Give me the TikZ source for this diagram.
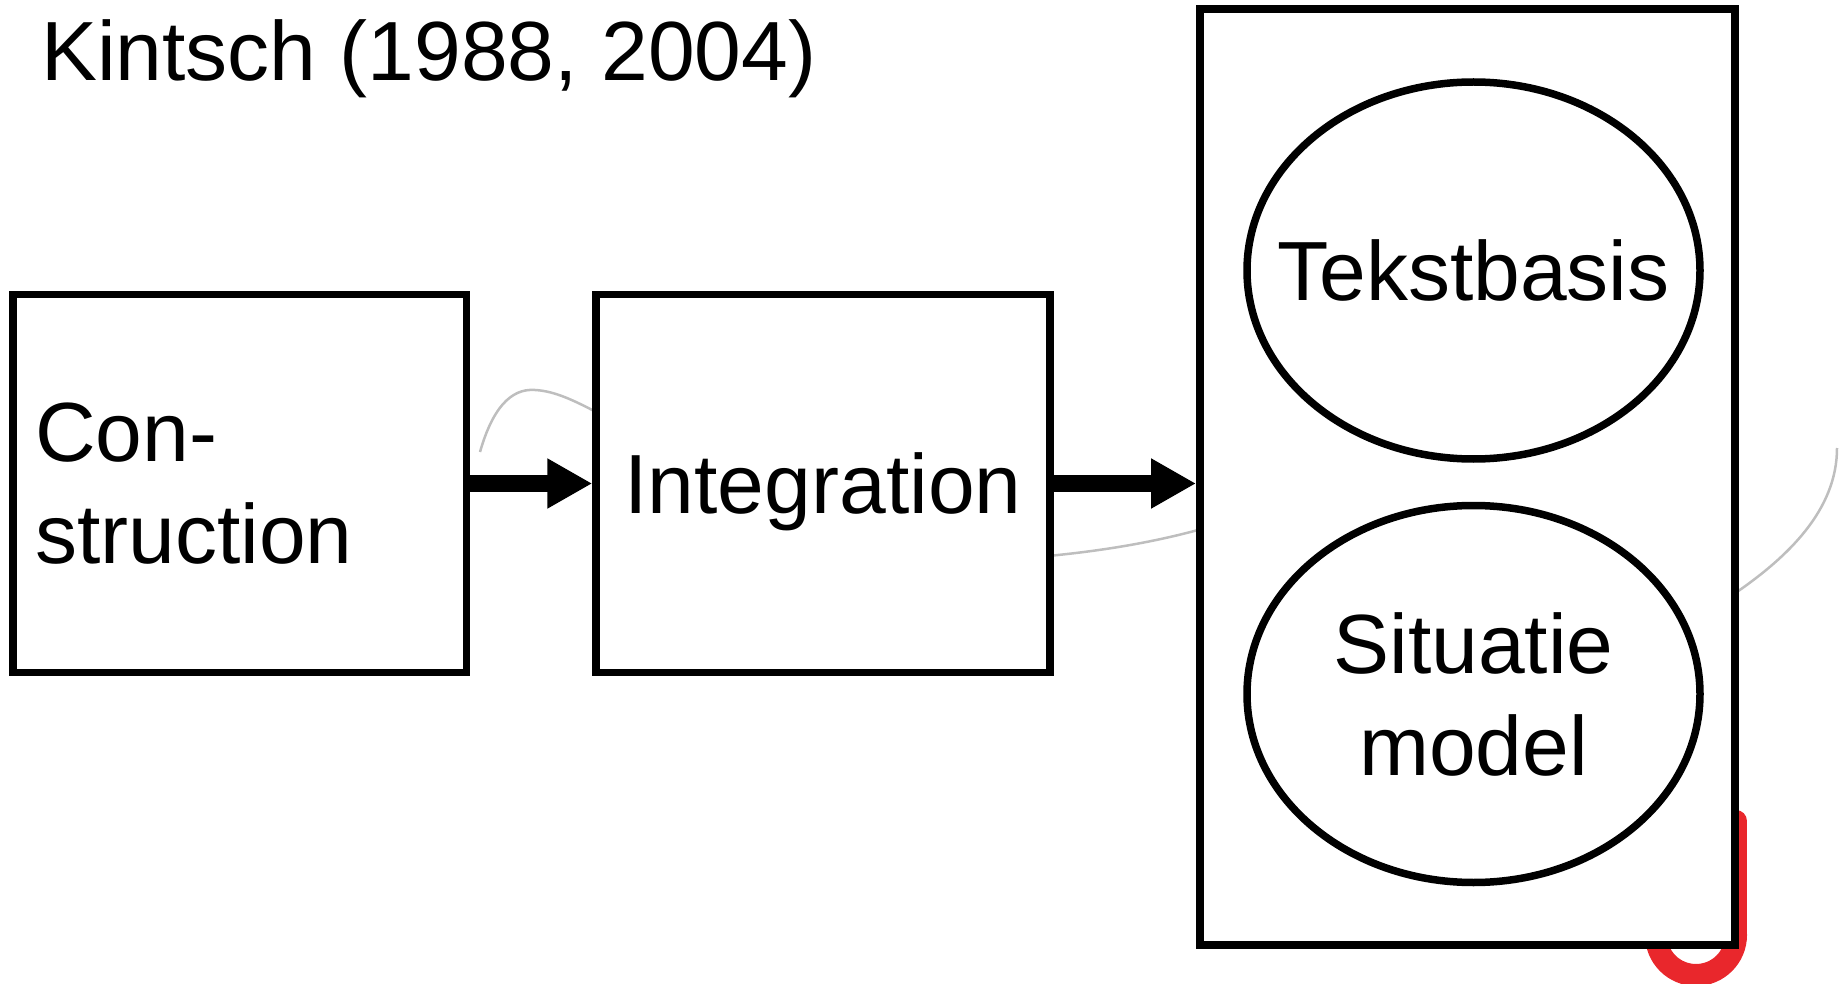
\documentclass[tikz,border=0pt]{standalone}
\usepackage{fontspec}
\setmainfont{Liberation Sans}
\usetikzlibrary{shapes.geometric,arrows.meta}
\definecolor{arcgray}{RGB}{190,190,190}
\definecolor{markred}{RGB}{233,39,44}
\begin{document}
\begin{tikzpicture}[x=1pt,y=-1pt,
  txt/.style={font=\fontsize{84}{102}\selectfont},
  box/.style={draw, line width=7.5pt, fill=white, rectangle, inner sep=0pt, txt},
  ell/.style={draw, ellipse, line width=7.5pt, fill=white, inner sep=0pt, minimum width=453pt, minimum height=377pt},
  flow/.style={line width=17pt, -{Triangle[length=45pt,width=47pt]}},
  ghost/.style={arcgray, line width=2.5pt},
  redmark/.style={markred, line width=22pt}
]
\useasboundingbox (0,0) rectangle (1840,984);
% faint background strokes
\draw[ghost] (480,452) .. controls (492,410) and (510,388) .. (535,390) .. controls (555,391) and (575,401) .. (598,413);
\draw[ghost] (1048,556) .. controls (1100,551) and (1150,543) .. (1198,530);
\draw[ghost] (1734,594) .. controls (1788,557) and (1837,510) .. (1837,448);
\draw[redmark] (1696,935) circle[radius=40];
\draw[redmark, line cap=round] (1736,821) -- (1736,935);
% title
\node[txt, anchor=base west, inner sep=0pt] (title) at (41,81) {Kintsch (1988, 2004)};
% boxes
\node[box, minimum width=453.5pt, minimum height=378pt, text width=409.5pt, inner xsep=22pt, align=left] (cons) at (239.75,483.5) {Con-\\struction};
\node[box, minimum width=454pt, minimum height=378pt, text depth=0pt] (integ) at (823,483.5) {Integration};
\node[box, line width=8pt, minimum width=535pt, minimum height=935.5pt] (frame) at (1467.5,476.75) {};
\node[ell, label={[txt]center:Tekstbasis}] (tekst) at (1473.5,270.5) {};
\node[ell, label={[txt,align=center]center:Situatie\\model}] (sit) at (1473.5,694) {};
% connectors
\draw[flow] (cons.east) -- (integ.west);
\draw[flow] (integ.east) -- (integ.east -| frame.west);
\end{tikzpicture}
\end{document}
